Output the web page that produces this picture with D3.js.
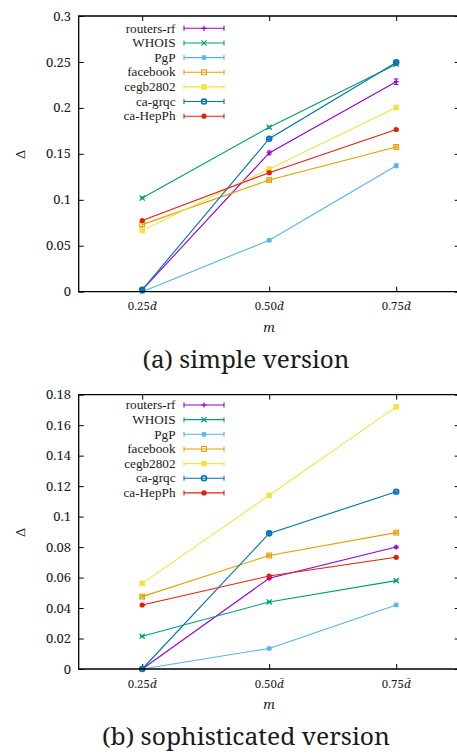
<!DOCTYPE html>
<html><head><meta charset="utf-8">
<script src="https://cdn.jsdelivr.net/npm/d3@7"></script>
<style>body{margin:0;background:#fff} svg{display:block}</style>
</head><body>
<svg id="chart" width="457" height="754" font-family="'Noto Serif', 'Liberation Serif', serif"></svg>
<script>
// ---------- data ----------
const seriesNames = ["routers-rf","WHOIS","PgP","facebook","cegb2802","ca-grqc","ca-HepPh"];
const seriesColors = ["#9400d3","#009e73","#56b4e9","#e69f00","#f0e442","#0072b2","#e51e10"];
const seriesMarkers = ["plus","cross","star","squareOpen","square","circleOpen","circle"];
const xValues = [0.25, 0.50, 0.75];
const xTickLabels = ["0.25","0.50","0.75"];

const simpleYTicks = [0,0.05,0.1,0.15,0.2,0.25,0.3];
const simpleYTickLabels = ["0","0.05","0.1","0.15","0.2","0.25","0.3"];
const sophYTicks = [0,0.02,0.04,0.06,0.08,0.1,0.12,0.14,0.16,0.18];
const sophYTickLabels = ["0","0.02","0.04","0.06","0.08","0.1","0.12","0.14","0.16","0.18"];

// (a) simple version
const simpleRoutersRf = [0.002, 0.151, 0.2285];
const simpleWhois     = [0.102, 0.179, 0.2475];
const simplePgp       = [0.000, 0.056, 0.137];
const simpleFacebook  = [0.073, 0.1215, 0.1575];
const simpleCegb2802  = [0.0665, 0.1335, 0.2005];
const simpleCaGrqc    = [0.002, 0.1665, 0.2495];
const simpleCaHepPh   = [0.0775, 0.1295, 0.1765];
const simpleErrors = [[0.001,0.002,0.003],[0.001,0.001,0.001],[0.001,0.001,0.002],[0.002,0.001,0.001],[0.001,0.001,0.001],[0.001,0.001,0.001],[0.001,0.001,0.001]];

// (b) sophisticated version
const sophRoutersRf = [0.000, 0.0595, 0.080];
const sophWhois     = [0.0215, 0.044, 0.058];
const sophPgp       = [0.000, 0.0135, 0.042];
const sophFacebook  = [0.0475, 0.0745, 0.0895];
const sophCegb2802  = [0.0562, 0.114, 0.172];
const sophCaGrqc    = [0.000, 0.089, 0.1163];
const sophCaHepPh   = [0.042, 0.061, 0.0733];
const sophErrors = [[0.0005,0.0007,0.0007],[0.0005,0.0005,0.0005],[0.0005,0.0005,0.0007],[0.0007,0.0005,0.0005],[0.0005,0.0005,0.0005],[0.0005,0.0005,0.0005],[0.0005,0.0005,0.0005]];

// ---------- drawing ----------
const FONT = "'Noto Serif', 'Liberation Serif', serif";
const LEGEND_FONT = "'Liberation Serif', 'Noto Serif', serif";
const TEXT_COLOR = "#1a1a1a";
const svg = d3.select("#chart");

function markerPath(type, s) {
  switch (type) {
    case "plus": return `M${-s},0H${s}M0,${-s}V${s}`;
    case "cross": return `M${-s},${-s}L${s},${s}M${-s},${s}L${s},${-s}`;
    case "star": return `M${-s},0H${s}M0,${-s}V${s}M${-s*0.8},${-s*0.8}L${s*0.8},${s*0.8}M${-s*0.8},${s*0.8}L${s*0.8},${-s*0.8}`;
    default: return null;
  }
}

function drawMarker(g, type, color, x, y) {
  const s = 2.6;
  if (type === "squareOpen") {
    g.append("rect").attr("x", x-2.4).attr("y", y-2.4).attr("width", 4.8).attr("height", 4.8)
      .attr("fill","none").attr("stroke",color).attr("stroke-width",1.1);
  } else if (type === "square") {
    g.append("rect").attr("x", x-2.8).attr("y", y-2.8).attr("width", 5.6).attr("height", 5.6)
      .attr("fill",color);
  } else if (type === "circleOpen") {
    g.append("circle").attr("cx", x).attr("cy", y).attr("r", 2.5)
      .attr("fill","none").attr("stroke",color).attr("stroke-width",1.6);
  } else if (type === "circle") {
    g.append("circle").attr("cx", x).attr("cy", y).attr("r", 2.6).attr("fill",color);
  } else {
    g.append("path").attr("d", markerPath(type, s)).attr("transform",`translate(${x},${y})`)
      .attr("stroke",color).attr("stroke-width",1.2).attr("fill","none");
  }
}

function addText(g, x, y, size, str, family) {
  const f = family || FONT;
  return g.append("text").attr("x", x).attr("y", y)
    .attr("font-family", f).attr("font-size", size + "px").attr("fill", TEXT_COLOR)
    .style("font-family", f).text(str);
}

function drawPanel(opts) {
  const {top, bottom, yMax, yTicks, yTickLabels, series, errors, legendTop, caption, captionY, captionWidth} = opts;
  const left = 78.7, right = 459.7;
  const x = d3.scaleLinear().domain([0.125, 0.875]).range([left, right]);
  const y = d3.scaleLinear().domain([0, yMax]).range([bottom, top]);
  const g = svg.append("g");

  const styleTicks = a => { a.select(".domain").remove(); a.selectAll("line").attr("stroke","#000").attr("stroke-width",1); };

  // y axis ticks inward on both sides
  g.append("g").attr("transform",`translate(${left},0)`)
    .call(d3.axisRight(y).tickValues(yTicks).tickSize(5).tickFormat("")).call(styleTicks);
  g.append("g").attr("transform",`translate(${right},0)`)
    .call(d3.axisLeft(y).tickValues(yTicks).tickSize(5).tickFormat("")).call(styleTicks);
  yTicks.forEach((d, i) => {
    addText(g, 71, y(d), 13, yTickLabels[i]).attr("dy","0.35em").attr("text-anchor","end");
  });

  // x axis ticks inward (bottom & top)
  g.append("g").attr("transform",`translate(0,${bottom})`)
    .call(d3.axisTop(x).tickValues(xValues).tickSize(5).tickFormat("")).call(styleTicks);
  g.append("g").attr("transform",`translate(0,${top})`)
    .call(d3.axisBottom(x).tickValues(xValues).tickSize(5).tickFormat("")).call(styleTicks);
  xValues.forEach((d, i) => {
    const t = addText(g, x(d), bottom + 18.5, 11.5, null).attr("text-anchor","middle");
    t.append("tspan").text(xTickLabels[i]);
    t.append("tspan").attr("font-style","italic").text("d\u0304");
  });

  // axis titles
  addText(g, x(0.5), bottom + 40, 13, "m").attr("text-anchor","middle").attr("font-style","italic");
  addText(g, 0, 0, 13, "\u0394").attr("text-anchor","middle")
    .attr("transform",`translate(25,${(top+bottom)/2 + 0.5}) rotate(-90)`);

  // series
  const line = d3.line().x((d,i) => x(xValues[i])).y(d => y(d));
  series.forEach((vals, si) => {
    const col = seriesColors[si];
    const sg = g.append("g");
    sg.append("path").datum(vals).attr("d", line).attr("fill","none").attr("stroke",col).attr("stroke-width",1.1);
    vals.forEach((v, i) => {
      const e = errors[si][i];
      const px = x(xValues[i]);
      const y1 = y(Math.max(0, v - e)), y2 = y(v + e);
      sg.append("path").attr("d",`M${px},${y1}V${y2}M${px-2.2},${y1}H${px+2.2}M${px-2.2},${y2}H${px+2.2}`)
        .attr("stroke",col).attr("stroke-width",1).attr("fill","none");
      drawMarker(sg, seriesMarkers[si], col, px, y(v));
    });
  });

  // legend
  seriesNames.forEach((name, si) => {
    const ly = legendTop + si * 14.65;
    const col = seriesColors[si];
    addText(g, 175.5, ly, 13.2, name, LEGEND_FONT).attr("dy","0.32em").attr("text-anchor","end");
    g.append("path").attr("d",`M184,${ly}H224M184,${ly-2.5}V${ly+2.5}M224,${ly-2.5}V${ly+2.5}`)
      .attr("stroke",col).attr("stroke-width",1.1).attr("fill","none");
    drawMarker(g, seriesMarkers[si], col, 204, ly);
  });

  // border
  g.append("path").attr("d",`M${right},${top}H${left}V${bottom}H${right}Z`)
    .attr("fill","none").attr("stroke","#000").attr("stroke-width",1.3);

  // caption
  addText(g, 246, captionY, 24, caption).attr("text-anchor","middle")
    .attr("textLength", captionWidth).attr("lengthAdjust","spacingAndGlyphs");
}

drawPanel({
  top: 16, bottom: 291.7, yMax: 0.3,
  yTicks: simpleYTicks, yTickLabels: simpleYTickLabels,
  series: [simpleRoutersRf, simpleWhois, simplePgp, simpleFacebook, simpleCegb2802, simpleCaGrqc, simpleCaHepPh],
  errors: simpleErrors, legendTop: 28.3,
  caption: "(a) simple version", captionY: 368, captionWidth: 207
});
drawPanel({
  top: 394.7, bottom: 669, yMax: 0.18,
  yTicks: sophYTicks, yTickLabels: sophYTickLabels,
  series: [sophRoutersRf, sophWhois, sophPgp, sophFacebook, sophCegb2802, sophCaGrqc, sophCaHepPh],
  errors: sophErrors, legendTop: 405,
  caption: "(b) sophisticated version", captionY: 745, captionWidth: 288
});
</script>
</body></html>
